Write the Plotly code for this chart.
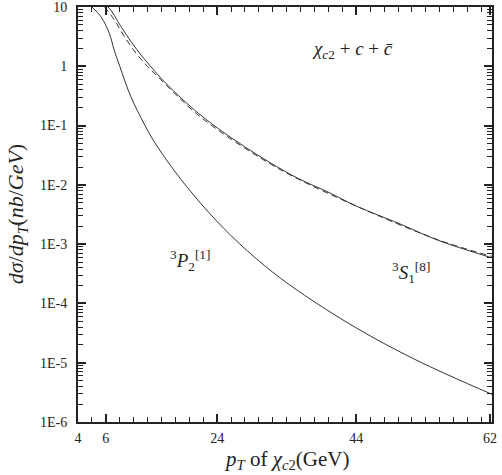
import plotly.graph_objects as go

# (x in axis units, y in nb/GeV)
pt_p1 = [6.0, 7.3, 8.5, 9.2, 10.0, 11.6, 13.6, 14.8, 17.9, 21.7, 26.0, 30.8, 35.6,
         43.9, 52.6, 63.5]
sig_p1 = [10.0, 6.87, 3.6, 1.88, 1.0, 0.307, 0.102, 0.0571, 0.0170, 0.00478, 0.00139,
          4.35e-4, 1.64e-4, 3.92e-5, 1.11e-5, 2.93e-6]

pt_s8 = [5.87, 7.08, 8.27, 10.19, 11.63, 13.06, 14.27, 15.94, 18.35, 20.75, 24.10,
         27.94, 31.77, 35.61, 40.22, 43.96, 50.29, 55.61, 63.53]
sig_s8 = [10.8, 11.5, 10.1, 4.66, 2.60, 1.55, 1.05, 0.628, 0.328, 0.183, 0.0899,
          0.0441, 0.0231, 0.0129, 0.00729, 0.00441, 0.00219, 0.00118, 5.85e-4]

pt_dash = [7.80, 9.24, 10.68, 12.35, 14.03, 15.47, 17.87, 20.75, 24.10, 27.94,
           31.77, 35.61, 43.96, 55.61, 63.53]
sig_dash = [10.1, 6.04, 3.16, 1.66, 0.984, 0.668, 0.351, 0.169, 0.0843, 0.0419,
            0.0221, 0.0126, 0.00441, 0.0012, 6.2e-4]

x_tickvals = [4, 8, 24, 44, 63.2]
x_ticktext = ["4", "6", "24", "44", "62"]
y_tickvals = [1e-6, 1e-5, 1e-4, 1e-3, 1e-2, 1e-1, 1, 10]
y_ticktext = ["1E-6", "1E-5", "1E-4", "1E-3", "1E-2", "1E-1", "1", "10"]

# minor ticks 2..9 in every decade
y_minor = [m * 10.0 ** e for e in range(-6, 1) for m in range(2, 10)]

font = "Liberation Serif, DejaVu Serif, serif"
ink = "#222222"

fig = go.Figure()
fig.add_trace(go.Scatter(x=pt_p1, y=sig_p1, mode="lines", line_shape="spline",
                         line=dict(color="#333333", width=1)))
fig.add_trace(go.Scatter(x=pt_s8, y=sig_s8, mode="lines", line_shape="spline",
                         line=dict(color="#333333", width=1)))
fig.add_trace(go.Scatter(x=pt_dash, y=sig_dash, mode="lines", line_shape="spline",
                         line=dict(color="#333333", width=1, dash="6px,4px")))

fig.update_layout(
    width=502, height=475,
    margin=dict(l=78, r=10, t=7, b=53, autoexpand=False),
    plot_bgcolor="white", paper_bgcolor="white",
    showlegend=False,
    font=dict(family=font, size=14, color=ink),
)
fig.update_xaxes(
    range=[4, 63.5], showgrid=False, zeroline=False, automargin=False,
    showline=True, linewidth=2, linecolor=ink, mirror="ticks",
    tickmode="array", tickvals=x_tickvals, ticktext=x_ticktext,
    ticks="inside", ticklen=8, tickwidth=1.5, tickcolor=ink,
    ticklabelstandoff=2, ticklabeloverflow="allow",
    minor=dict(tick0=4, dtick=2, ticks="inside", ticklen=5, tickwidth=1.2, tickcolor=ink),
)
fig.update_yaxes(
    type="log", range=[-6, 1.0005], showgrid=False, zeroline=False, automargin=False,
    showline=True, linewidth=2, linecolor=ink, mirror="ticks",
    tickmode="array", tickvals=y_tickvals, ticktext=y_ticktext,
    ticks="inside", ticklen=8, tickwidth=1.5, tickcolor=ink,
    ticklabelstandoff=6, ticklabeloverflow="allow",
    minor=dict(tickmode="array", tickvals=y_minor, ticks="inside", ticklen=5,
               tickwidth=1, tickcolor=ink),
)

fig.add_annotation(text="<i>χ</i><sub><i>c</i>2</sub> + <i>c</i> + <i>c̄</i>",
                   xref="paper", yref="paper", x=0.664, y=0.93,
                   showarrow=False, font=dict(size=19, family=font))
fig.add_annotation(text="<sup>3</sup><i>P</i><sub>2</sub><sup>[1]</sup>",
                   xref="paper", yref="paper", x=0.218, y=0.39,
                   showarrow=False, font=dict(size=19, family=font))
fig.add_annotation(text="<sup>3</sup><i>S</i><sub>1</sub><sup>[8]</sup>",
                   xref="paper", yref="paper", x=0.855, y=0.36,
                   showarrow=False, font=dict(size=19, family=font))
fig.add_annotation(text="<i>p</i><sub><i>T</i></sub> of <i>χ</i><sub><i>c</i>2</sub>(GeV)",
                   xref="paper", yref="paper", x=0.503, y=-0.092, yanchor="middle",
                   showarrow=False, font=dict(size=21, family=font))
fig.add_annotation(text="<i>dσ</i>/<i>dp</i><sub><i>T</i></sub>(<i>nb</i>/<i>GeV</i>)",
                   xref="paper", yref="paper", x=-0.148, y=0.5, textangle=-90,
                   xanchor="center", yanchor="middle",
                   showarrow=False, font=dict(size=22, family=font))

# drop the default 8px page margin so the 502x475 figure fills the window
fig.write_html("out.html", config={"displayModeBar": False},
               post_script="document.body.style.margin='0';document.body.style.overflow='hidden';")
